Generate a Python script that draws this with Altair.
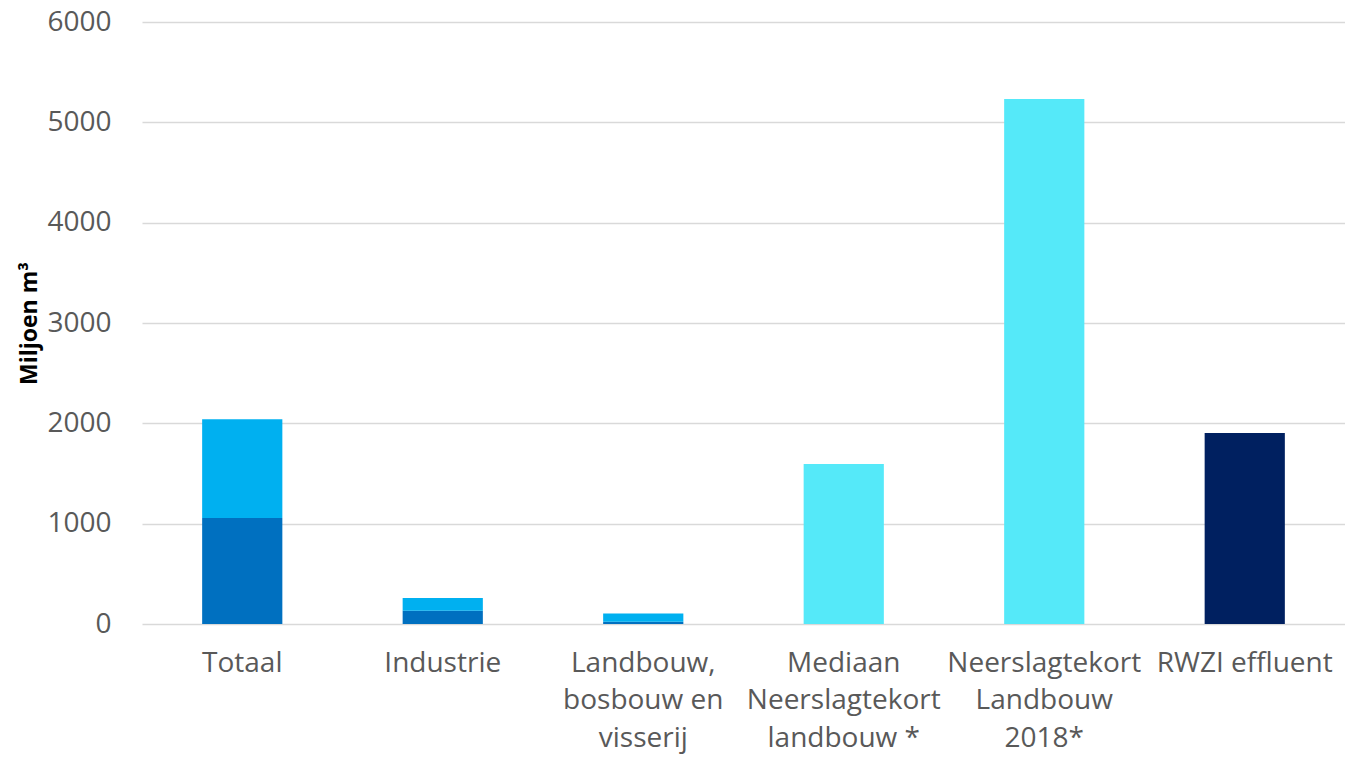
import altair as alt
import pandas as pd

categories = ["Totaal", "Industrie", "Landbouw,|bosbouw en|visserij",
              "Mediaan|Neerslagtekort|landbouw *", "Neerslagtekort|Landbouw|2018*",
              "RWZI effluent"]
bottom_values = [1056, 132, 22, 1595, 5233, 1904]
top_values = [985, 127, 83, 0, 0, 0]

rows = []
for i, c in enumerate(categories):
    if i < 3:
        rows.append({"cat": c, "part": "a", "value": bottom_values[i], "ord": 0})
        rows.append({"cat": c, "part": "b", "value": top_values[i], "ord": 1})
    elif i < 5:
        rows.append({"cat": c, "part": "c", "value": bottom_values[i], "ord": 0})
    else:
        rows.append({"cat": c, "part": "d", "value": bottom_values[i], "ord": 0})
df = pd.DataFrame(rows)

FONT = "Open Sans"

chart = alt.Chart(df).mark_bar().encode(
    x=alt.X("cat:N", sort=categories, title=None,
            scale=alt.Scale(paddingInner=0.6, paddingOuter=0.3),
            axis=alt.Axis(labelExpr="split(datum.label, '|')", labelAngle=0,
                          labelFontSize=28, labelColor="#595959", labelFont=FONT,
                          labelPadding=25, labelLineHeight=37.5, ticks=False, domain=False,
                          labelBaseline="top", labelLimit=400)),
    y=alt.Y("value:Q", stack="zero", title="Miljoen m³",
            scale=alt.Scale(domain=[0, 6000]),
            axis=alt.Axis(values=[0, 1000, 2000, 3000, 4000, 5000, 6000], format="d",
                          labelFontSize=28, labelColor="#595959", labelFont=FONT,
                          labelPadding=31, ticks=False, domain=False,
                          gridColor="#d9d9d9", gridWidth=1.5,
                          titleFont=FONT, titleFontSize=23, titleFontWeight="bold",
                          titleColor="#000000", titleX=-101, titleY=301,
                          titleAngle=270, titleAlign="center", titleBaseline="bottom")),
    color=alt.Color("part:N", legend=None,
                    scale=alt.Scale(domain=["a", "b", "c", "d"],
                                    range=["#0070C0", "#00B0F0", "#55E9F9", "#002060"])),
    order=alt.Order("ord:Q"),
).properties(
    width=1203, height=602,
    autosize=alt.AutoSizeParams(type="none"),
    padding={"left": 142, "top": 22, "right": 0, "bottom": 135},
).configure_view(stroke=None)

chart.save("out.html", embed_options={"renderer": "svg", "actions": False})
